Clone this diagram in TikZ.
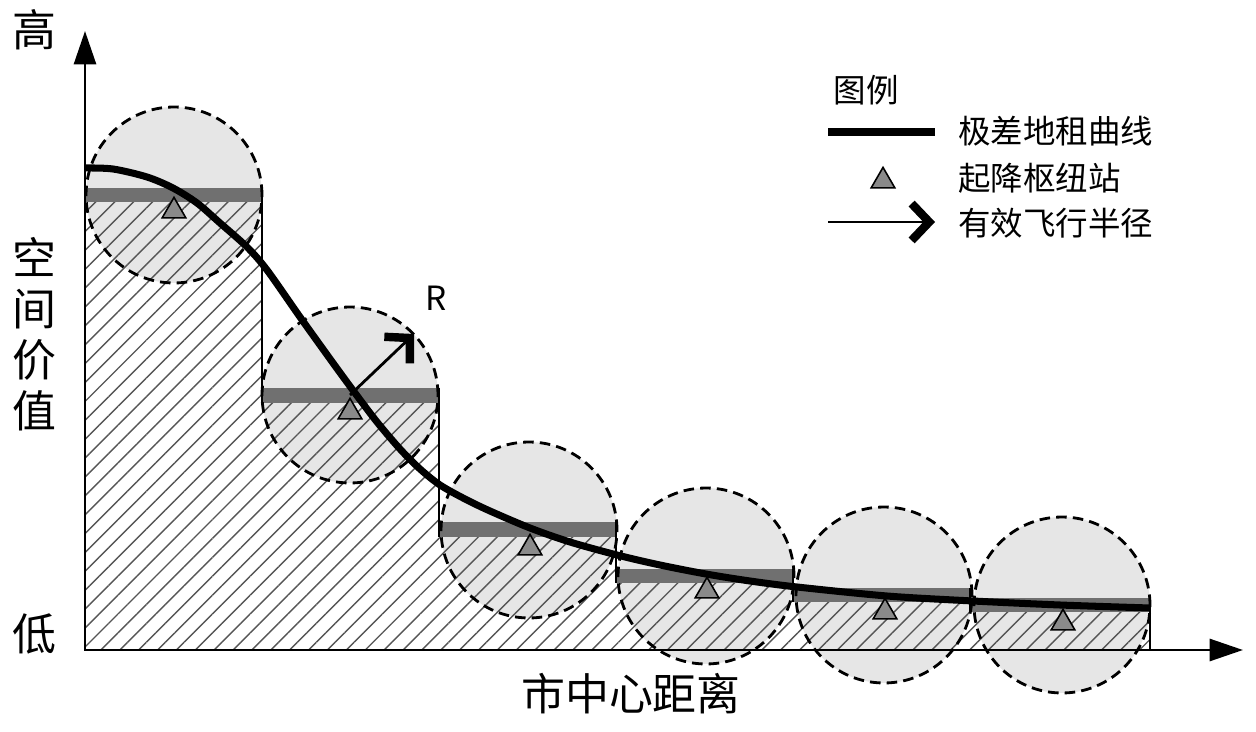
\documentclass[tikz,border=0pt]{standalone}
\usepackage{fontspec}
\setmainfont{Noto Sans CJK SC}
\usepackage{xcolor}
\usepackage{tikz}
\usetikzlibrary{arrows.meta,positioning,shapes.geometric,patterns.meta}

\definecolor{zonefill}{HTML}{E6E6E6}
\definecolor{bandgray}{HTML}{707070}
\definecolor{hatchgray}{HTML}{555555}
\definecolor{hubgray}{HTML}{8A8A8A}

\begin{document}
\begin{tikzpicture}[x=0.02cm, y=-0.02cm,
  zone/.style={fill=zonefill},
  zoneline/.style={draw=black, line width=1.6pt, dash pattern=on 6pt off 3.5pt},
  hatch/.style={pattern={Lines[angle=45,distance=7.6pt,line width=0.8pt]}, pattern color=hatchgray},
  band/.style={fill=bandgray},
  stepedge/.style={line width=1.6pt},
  hub/.style={regular polygon, regular polygon sides=3, draw, line width=0.9pt, fill=hubgray, minimum size=15.5pt, inner sep=0pt},
  rent/.style={line width=4pt},
  axisline/.style={line width=1.7pt, {Triangle[length=19pt,width=12.5pt]}-{Triangle[length=19pt,width=12.5pt]}},
  radiusarrow/.style={line width=1.6pt, -{Straight Barb[length=10pt,width=21pt,line width=4.8pt]}},
  axislabel/.style={font=\fontsize{25}{29}\selectfont, align=center},
  legendtext/.style={font=\fontsize{18.5}{22}\selectfont, anchor=west}]
\useasboundingbox (0,0) rectangle (1256,732);

\fill[zone] (174,195) circle [radius=1.76cm];
\fill[zone] (350,395) circle [radius=1.76cm];
\fill[zone] (529,530) circle [radius=1.76cm];
\fill[zone] (706,576) circle [radius=1.76cm];
\fill[zone] (884,595) circle [radius=1.76cm];
\fill[zone] (1062,605) circle [radius=1.76cm];

\fill[hatch] (85,650) -- (85,202) -- (262,202) -- (262,403) -- (439,403) -- (439,537)
  -- (616,537) -- (616,583) -- (793,583) -- (793,602) -- (970,602) -- (970,612)
  -- (1150,612) -- (1150,650) -- cycle;

\fill[band] (85,188) rectangle (262,202);
\fill[band] (262,388) rectangle (439,403);
\fill[band] (439,522) rectangle (616,537);
\fill[band] (616,569) rectangle (793,583);
\fill[band] (793,588) rectangle (970,602);
\fill[band] (970,598) rectangle (1150,612);

\draw[stepedge] (262,188) -- (262,403);
\draw[stepedge] (439,388) -- (439,537);
\draw[stepedge] (616,522) -- (616,583);
\draw[stepedge] (793,569) -- (793,602);
\draw[stepedge] (970,588) -- (970,612);
\draw[stepedge] (1150,598) -- (1150,650);

\draw[zoneline] (174,195) circle [radius=1.76cm];
\draw[zoneline] (350,395) circle [radius=1.76cm];
\draw[zoneline] (529,530) circle [radius=1.76cm];
\draw[zoneline] (706,576) circle [radius=1.76cm];
\draw[zoneline] (884,595) circle [radius=1.76cm];
\draw[zoneline] (1062,605) circle [radius=1.76cm];

\node[hub] (hub1) at (174,211) {};
\node[hub] (hub2) at (350,412) {};
\node[hub] (hub3) at (530,548) {};
\node[hub] (hub4) at (707,591) {};
\node[hub] (hub5) at (885,612) {};
\node[hub] (hub6) at (1063,623) {};

\draw[rent] plot[smooth, tension=0.5] coordinates {(85,168) (113,169) (147,177) (173,188)
  (197,203) (220,223) (247,247) (267,270) (300,317) (333,363) (355,393) (377,422)
  (400,449) (420,469) (440,485) (465,499) (490,511) (530,528) (570,542) (617,555)
  (660,565) (706,574) (750,581) (797,587) (887,596) (973,601) (1060,605) (1150,608)};

\coordinate (centre2) at (350,395);
\coordinate (radiustip) at (414,334);
\draw[radiusarrow] (centre2) -- (radiustip);
\node[font=\fontsize{19}{21}\selectfont] (rname) at (436,298) {R};

\coordinate (origin) at (85,650);
\coordinate (ytip) at (85,31);
\coordinate (xtip) at (1243,650);
\draw[axisline] (ytip) -- (origin) -- (xtip);

\node[axislabel] (high) at (34,30) {高};
\node[axislabel] (low) at (34,634) {低};
\node[axislabel] (value) at (34,334) {空\\间\\价\\值};
\node[axislabel] (distance) at (631,694) {市中心距离};

\node[font=\fontsize{18.5}{22}\selectfont] (legtitle) at (866,90) {图例};
\coordinate (rentA) at (828,132);
\coordinate (rentB) at (935,132);
\draw[rent] (rentA) -- (rentB);
\node[legendtext] (rentname) at (952,131) {极差地租曲线};
\node[hub] (leghub) at (883,181) {};
\node[legendtext] (hubname) at (952,178) {起降枢纽站};
\coordinate (radiusA) at (828,222);
\coordinate (radiusB) at (935,222);
\draw[radiusarrow] (radiusA) -- (radiusB);
\node[legendtext] (radiusname) at (952,223) {有效飞行半径};
\end{tikzpicture}
\end{document}
